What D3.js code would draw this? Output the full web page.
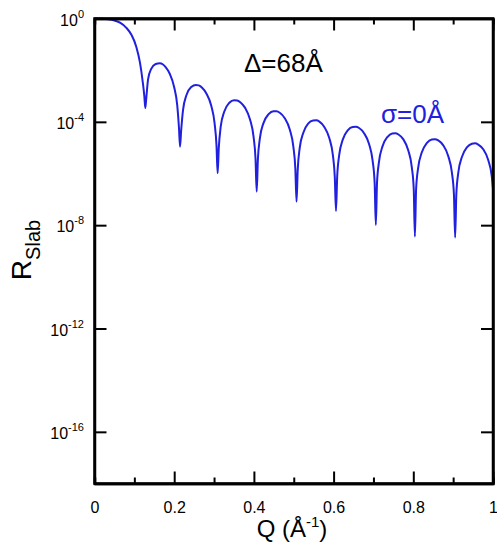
<!DOCTYPE html>
<html>
<head>
<meta charset="utf-8">
<script src="https://cdn.jsdelivr.net/npm/d3@7"></script>
<style>
  body { margin: 0; background: #fff; }
  svg { font-family: "Liberation Sans", Arial, sans-serif; }
</style>
</head>
<body>
<script>
// Q in 1/Å, reflectivity stored as log10(R)
const qVals = [
  0, 0.02, 0.035, 0.05, 0.065, 0.08, 0.093, 0.105, 0.114, 0.121, 0.125, 0.1275,
  0.1301, 0.1345, 0.1423, 0.1536, 0.1641, 0.1711, 0.1780, 0.1885, 0.1998, 0.2076, 0.2120, 0.2146,
  0.2174, 0.2222, 0.2306, 0.2429, 0.2542, 0.2618, 0.2694, 0.2807, 0.2930, 0.3014, 0.3062, 0.309,
  0.3119, 0.3168, 0.3257, 0.3384, 0.3502, 0.358, 0.3658, 0.3776, 0.3903, 0.3992, 0.4041, 0.407,
  0.410, 0.415, 0.424, 0.437, 0.449, 0.457, 0.465, 0.477, 0.490, 0.499, 0.504, 0.507,
  0.510, 0.5149, 0.5238, 0.5367, 0.5486, 0.5565, 0.5644, 0.5763, 0.5892, 0.5981, 0.6030, 0.606,
  0.609, 0.614, 0.623, 0.636, 0.648, 0.656, 0.664, 0.676, 0.689, 0.698, 0.703, 0.706,
  0.7089, 0.7138, 0.7227, 0.7354, 0.7472, 0.755, 0.7628, 0.7746, 0.7873, 0.7962, 0.8011, 0.804,
  0.8070, 0.8121, 0.8212, 0.8343, 0.8464, 0.8545, 0.8626, 0.8747, 0.8878, 0.8969, 0.9020, 0.905,
  0.908, 0.913, 0.922, 0.935, 0.947, 0.955, 0.963, 0.975, 0.988, 0.997, 1.0
];
const logR = [
  0, -0.005, -0.03, -0.08, -0.17, -0.36, -0.64, -1.1, -1.7, -2.45, -3.0, -3.47,
  -3.05, -2.35, -1.95, -1.76, -1.73, -1.77, -1.87, -2.13, -2.65, -3.35, -4.24, -4.96,
  -4.35, -3.54, -2.97, -2.65, -2.57, -2.59, -2.67, -2.90, -3.38, -4.06, -4.93, -5.99,
  -5.00, -4.18, -3.60, -3.26, -3.16, -3.17, -3.24, -3.45, -3.91, -4.58, -5.44, -6.70,
  -5.46, -4.64, -4.05, -3.70, -3.59, -3.59, -3.65, -3.85, -4.30, -4.96, -5.82, -7.09,
  -5.85, -5.02, -4.43, -4.06, -3.95, -3.94, -3.99, -4.19, -4.63, -5.28, -6.14, -7.45,
  -6.12, -5.29, -4.69, -4.32, -4.20, -4.19, -4.24, -4.43, -4.86, -5.51, -6.37, -7.99,
  -6.38, -5.56, -4.95, -4.58, -4.45, -4.44, -4.49, -4.67, -5.10, -5.75, -6.60, -8.44,
  -6.62, -5.79, -5.19, -4.81, -4.68, -4.67, -4.72, -4.90, -5.33, -5.97, -6.82, -8.48,
  -6.79, -5.96, -5.36, -4.98, -4.85, -4.83, -4.88, -5.05, -5.48, -6.12, -6.60
];
const xTicks = [0, 0.2, 0.4, 0.6, 0.8, 1];
const xMinor = [0.1, 0.3, 0.5, 0.7, 0.9];
const yExps = [0, -4, -8, -12, -16];

const W = 497, H = 547;
const m = { l: 94.5, r: 4, t: 18.5, b: 63.5 };
const blue = '#2020de';

const svg = d3.select('body').append('svg')
    .attr('width', W)
    .attr('height', H);

const x = d3.scaleLinear().domain([0, 1]).range([m.l, W - m.r]);
const y = d3.scaleLog().domain([1e-18, 1]).range([H - m.b, m.t]);

const data = qVals.map((q, i) => ({ q: q, r: Math.pow(10, logR[i]) }));

// curve
svg.append('path')
    .datum(data)
    .attr('fill', 'none')
    .attr('stroke', blue)
    .attr('stroke-width', 2)
    .attr('stroke-linejoin', 'round')
    .attr('d', d3.line().x(d => x(d.q)).y(d => y(d.r)).curve(d3.curveMonotoneX));

// axes, ticks point inward
const gBottom = svg.append('g').attr('transform', `translate(0,${H - m.b})`)
    .call(d3.axisBottom(x).tickValues(xTicks).tickSizeInner(-12).tickSizeOuter(0)
        .tickPadding(18).tickFormat(d => d === 0 || d === 1 ? d3.format('d')(d) : d3.format('.1f')(d)));
gBottom.append('g').call(d3.axisBottom(x).tickValues(xMinor).tickSize(-6).tickFormat(''));

const gTop = svg.append('g').attr('transform', `translate(0,${m.t})`)
    .call(d3.axisTop(x).tickValues(xTicks).tickSizeInner(-12).tickSizeOuter(0).tickFormat(''));
gTop.append('g').call(d3.axisTop(x).tickValues(xMinor).tickSize(-6).tickFormat(''));

svg.append('g').attr('transform', `translate(${m.l},0)`)
    .call(d3.axisLeft(y).tickValues(yExps.map(e => Math.pow(10, e))).tickSizeInner(-12)
        .tickSizeOuter(0).tickFormat(''));

svg.append('g').attr('transform', `translate(${W - m.r},0)`)
    .call(d3.axisRight(y).tickValues(yExps.map(e => Math.pow(10, e))).tickSizeInner(-12)
        .tickSizeOuter(0).tickFormat(''));

svg.selectAll('.domain, .tick line').attr('stroke', '#000').attr('stroke-width', 2);
svg.selectAll('.domain').attr('stroke-width', 2.5);

gBottom.selectAll('.tick text').attr('font-size', 16).attr('fill', '#000');

// left labels 10^n
const yl = svg.append('g');
yExps.forEach(e => {
  const t = yl.append('text')
      .attr('x', 84)
      .attr('y', y(Math.pow(10, e)) + 7)
      .attr('text-anchor', 'end')
      .attr('font-size', 16);
  t.append('tspan').text('10');
  t.append('tspan').attr('dy', -8).attr('font-size', 11).text(String(e));
});

// frame
svg.append('rect')
    .attr('x', m.l).attr('y', m.t)
    .attr('width', W - m.r - m.l).attr('height', H - m.b - m.t)
    .attr('fill', 'none').attr('stroke', '#000').attr('stroke-width', 2.5);

// annotations
svg.append('text')
    .attr('x', 244).attr('y', 72)
    .attr('font-size', 26)
    .text('Δ=68Å');

svg.append('text')
    .attr('x', 381).attr('y', 123)
    .attr('font-size', 26)
    .attr('fill', blue)
    .text('σ=0Å');

// axis titles
const xt = svg.append('text')
    .attr('x', 292).attr('y', 537)
    .attr('text-anchor', 'middle')
    .attr('font-size', 24);
xt.append('tspan').text('Q (Å');
xt.append('tspan').attr('dy', -10).attr('font-size', 15).text('-1');
xt.append('tspan').attr('dy', 10).text(')');

const yt = svg.append('text')
    .attr('transform', 'translate(31,250) rotate(-90)')
    .attr('text-anchor', 'middle')
    .attr('font-size', 28);
yt.append('tspan').text('R');
yt.append('tspan').attr('dy', 9).attr('font-size', 20).text('Slab');
</script>
</body>
</html>
